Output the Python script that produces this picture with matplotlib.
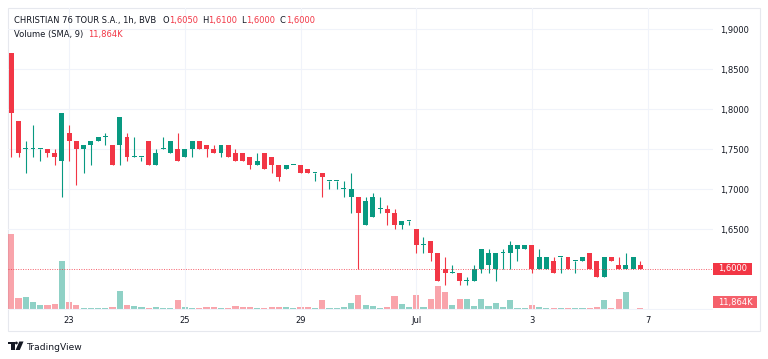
import numpy as np
import matplotlib.pyplot as plt
from matplotlib.patches import Rectangle, Polygon, Circle
from matplotlib.transforms import Affine2D

# CHRISTIAN 76 TOUR S.A., 1h bars, BVB
opens = [1.870, 1.785, 1.750, 1.750, 1.750, 1.750, 1.745, 1.735, 1.770, 1.760,
         1.750, 1.755, 1.760, 1.765, 1.755, 1.755, 1.765, 1.740, 1.740, 1.760,
         1.730, 1.750, 1.745, 1.750, 1.740, 1.750, 1.760, 1.755, 1.750, 1.745,
         1.755, 1.745, 1.745, 1.740, 1.730, 1.745, 1.740, 1.730, 1.725, 1.730,
         1.730, 1.725, 1.720, 1.720, 1.710, 1.710, 1.700, 1.690, 1.690, 1.655,
         1.665, 1.675, 1.675, 1.670, 1.655, 1.660, 1.650, 1.630, 1.635, 1.620,
         1.600, 1.595, 1.595, 1.585, 1.585, 1.600, 1.605, 1.600, 1.620, 1.620,
         1.625, 1.625, 1.630, 1.600, 1.600, 1.610, 1.615, 1.615, 1.610, 1.610,
         1.620, 1.610, 1.590, 1.615, 1.605, 1.600, 1.600, 1.605]
highs = [1.870, 1.785, 1.760, 1.780, 1.750, 1.750, 1.750, 1.795, 1.780, 1.760,
         1.755, 1.760, 1.765, 1.770, 1.755, 1.790, 1.770, 1.765, 1.740, 1.760,
         1.750, 1.765, 1.760, 1.770, 1.750, 1.760, 1.760, 1.755, 1.755, 1.755,
         1.755, 1.750, 1.745, 1.740, 1.745, 1.745, 1.740, 1.730, 1.730, 1.730,
         1.730, 1.725, 1.720, 1.720, 1.710, 1.710, 1.710, 1.720, 1.690, 1.690,
         1.695, 1.690, 1.680, 1.675, 1.660, 1.660, 1.650, 1.640, 1.635, 1.620,
         1.615, 1.605, 1.595, 1.590, 1.605, 1.625, 1.625, 1.620, 1.625, 1.635,
         1.630, 1.630, 1.630, 1.625, 1.615, 1.615, 1.615, 1.615, 1.610, 1.615,
         1.620, 1.610, 1.615, 1.615, 1.615, 1.620, 1.615, 1.610]
lows = [1.740, 1.740, 1.720, 1.740, 1.735, 1.740, 1.730, 1.690, 1.735, 1.705,
        1.720, 1.730, 1.760, 1.755, 1.730, 1.730, 1.735, 1.740, 1.735, 1.730,
        1.730, 1.750, 1.745, 1.735, 1.740, 1.740, 1.750, 1.740, 1.745, 1.740,
        1.740, 1.735, 1.735, 1.725, 1.730, 1.725, 1.720, 1.710, 1.725, 1.730,
        1.720, 1.720, 1.710, 1.690, 1.700, 1.700, 1.690, 1.670, 1.600, 1.655,
        1.665, 1.670, 1.655, 1.650, 1.650, 1.655, 1.620, 1.620, 1.610, 1.585,
        1.580, 1.595, 1.580, 1.580, 1.585, 1.595, 1.595, 1.585, 1.600, 1.600,
        1.610, 1.625, 1.595, 1.600, 1.600, 1.595, 1.595, 1.600, 1.595, 1.610,
        1.600, 1.590, 1.590, 1.610, 1.600, 1.600, 1.600, 1.600]
closes = [1.795, 1.745, 1.750, 1.750, 1.750, 1.745, 1.740, 1.795, 1.760, 1.750,
          1.755, 1.760, 1.765, 1.765, 1.730, 1.790, 1.740, 1.740, 1.740, 1.730,
          1.745, 1.750, 1.760, 1.735, 1.750, 1.760, 1.750, 1.750, 1.745, 1.755,
          1.740, 1.735, 1.735, 1.730, 1.735, 1.725, 1.730, 1.715, 1.730, 1.730,
          1.720, 1.720, 1.720, 1.715, 1.710, 1.710, 1.700, 1.700, 1.670, 1.685,
          1.690, 1.675, 1.670, 1.655, 1.660, 1.660, 1.630, 1.630, 1.620, 1.585,
          1.595, 1.595, 1.585, 1.585, 1.600, 1.625, 1.620, 1.620, 1.620, 1.630,
          1.630, 1.630, 1.600, 1.615, 1.615, 1.595, 1.615, 1.600, 1.610, 1.615,
          1.600, 1.590, 1.615, 1.610, 1.600, 1.605, 1.615, 1.600]
# volume in thousands
volumes = [525, 77, 86, 49, 30, 30, 35, 340, 54, 30,
           10, 10, 6, 10, 18, 127, 27, 23, 19, 9,
           19, 8, 8, 63, 19, 12, 12, 16, 16, 12,
           8, 25, 16, 16, 9, 12, 16, 16, 19, 12,
           16, 16, 9, 63, 9, 9, 17, 45, 103, 31,
           26, 9, 19, 90, 35, 19, 100, 16, 72, 163,
           119, 30, 72, 72, 23, 72, 26, 47, 19, 65,
           12, 9, 28, 19, 7, 7, 7, 12, 7, 7,
           12, 19, 65, 9, 75, 121, 2, 11.864]

tick_bars = [8, 24, 40, 56, 72, 88]
tick_labels = ['23', '25', '29', 'Jul', '3', '7']
price_ticks = [1.65, 1.70, 1.75, 1.80, 1.85, 1.90]
last_price = 1.60

GREEN = '#089981'
RED = '#F23645'
TEXT = '#131722'
GRID = '#F0F3FA'

W, H = 768, 359
fig = plt.figure(figsize=(W / 100, H / 100), dpi=100)
# pixel coords measured from the top-left corner
px = Affine2D().scale(1, -1).translate(0, H)

ax = fig.add_axes([8 / W, 1 - 310 / H, 705 / W, 302 / H])
ax2 = ax.twinx()
ax.set_zorder(2)
ax2.set_zorder(1)
ax.patch.set_visible(False)

x = np.arange(len(opens))
o = np.array(opens)
c = np.array(closes)
up = c >= o
cols = np.where(up, GREEN, RED)

# volume
ax2.bar(x, volumes, width=0.85, color=cols, alpha=0.45, linewidth=0)
ax2.set_ylim(-5, 2109)
ax2.axis('off')

# candles
ax.vlines(x, lows, highs, colors=cols, linewidth=0.8)
body = np.maximum(np.abs(c - o), 0.0013)
ax.bar(x, body, bottom=np.minimum(o, c), width=0.68, color=cols, linewidth=0)

ax.set_xlim(-0.46, 97.05)
ax.set_ylim(1.54875, 1.92625)

for p in price_ticks + [1.55]:
    ax.axhline(p, color=GRID, lw=0.8, zorder=0)
for b in tick_bars:
    ax.axvline(b, color=GRID, lw=0.8, zorder=0)
ax.axhline(last_price, color=RED, lw=0.7, ls=(0, (1, 1.5)), alpha=0.8)

ax.set_xticks(tick_bars)
ax.set_xticklabels(tick_labels)
ax.yaxis.tick_right()
ax.set_yticks(price_ticks)
ax.set_yticklabels([f'{p:.4f}'.replace('.', ',') for p in price_ticks])
ax.tick_params(axis='x', length=0, pad=4, labelsize=6, labelcolor=TEXT)
ax.tick_params(axis='y', length=0, pad=5, labelsize=6, labelcolor=TEXT)
for s in ax.spines.values():
    s.set_visible(False)

# outer frame
fig.add_artist(Rectangle((7.5, 7.5), 752.5, 323.5, transform=px,
                         fc='none', ec='#E6E8EE', lw=0.8))

# last price / volume labels on the scale
y_last = H - ax.transData.transform((0, last_price))[1]
fig.add_artist(Rectangle((713, y_last - 6.2), 39, 12.4, transform=px,
                         fc=RED, ec='none'))
fig.text(732.5, y_last, '1,6000', transform=px, color='white', fontsize=6,
         ha='center', va='center')
fig.add_artist(Rectangle((713, 296), 44, 12.4, transform=px,
                         fc='#F5606B', ec='none'))
fig.text(735, 302.2, '11,864K', transform=px, color='white', fontsize=6,
         ha='center', va='center')

# legend lines
fig.text(14, 23.3, 'CHRISTIAN 76 TOUR S.A., 1h, BVB', transform=px,
         color=TEXT, fontsize=6, va='baseline')
ohlc = [('O', 162.7, '1,6050', 169.5), ('H', 201.7, '1,6100', 208.5),
        ('L', 241, '1,6000', 246.5), ('C', 280, '1,6000', 286)]
for k, kx, v, vx in ohlc:
    fig.text(kx, 23.3, k, transform=px, color=TEXT, fontsize=6, va='baseline')
    fig.text(vx, 23.3, v, transform=px, color=RED, fontsize=6, va='baseline')
fig.text(14, 36.5, 'Volume (SMA, 9)', transform=px, color=TEXT, fontsize=6,
         va='baseline')
fig.text(88.3, 36.5, '11,864K', transform=px, color=RED, fontsize=6,
         va='baseline')

# TradingView mark
fig.add_artist(Polygon([(7.5, 341.5), (14.5, 341.5), (14.5, 350), (10.8, 350),
                        (10.8, 344.4), (7.5, 344.4)], closed=True,
                       transform=px, fc=TEXT, ec='none'))
fig.add_artist(Circle((16.4, 343.0), 1.4, transform=px, fc=TEXT, ec='none'))
fig.add_artist(Polygon([(19.3, 341.5), (23.5, 341.5), (19.8, 350), (15.6, 350)],
                       closed=True, transform=px, fc=TEXT, ec='none'))
fig.text(26.7, 350, 'TradingView', transform=px, color=TEXT, fontsize=6.6,
         va='baseline')

fig.savefig('out.png', dpi=100, facecolor='white')
